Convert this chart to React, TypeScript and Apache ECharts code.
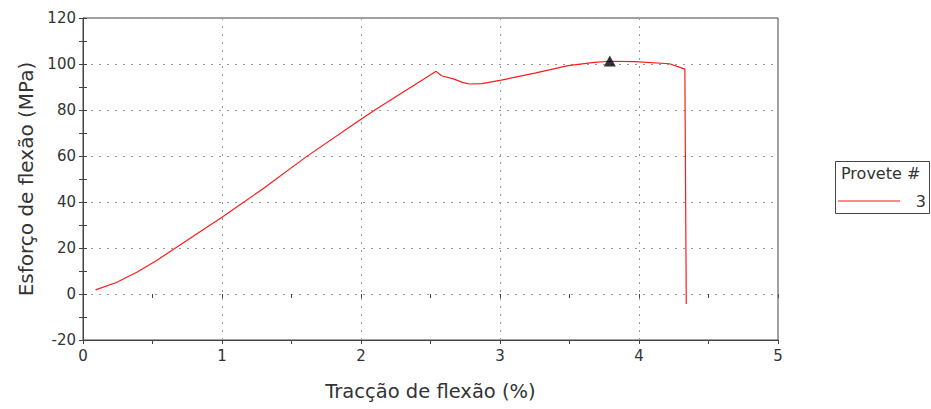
import React, { useEffect, useRef } from "react";
import * as echarts from "echarts";

const strain = [0.09, 0.24, 0.39, 0.53, 0.66, 0.82, 1.0, 1.14, 1.3, 1.6, 2.0, 2.1, 2.29, 2.45, 2.54, 2.58, 2.67, 2.73, 2.78, 2.87, 3.01, 3.25, 3.49, 3.68, 3.79, 3.97, 4.22, 4.33, 4.34];
const stress = [1.8, 5.0, 9.6, 14.6, 19.8, 26.2, 33.4, 39.2, 46.0, 59.4, 76.0, 80.0, 87.3, 93.4, 96.8, 94.9, 93.4, 92.0, 91.3, 91.5, 93.0, 96.0, 99.3, 100.7, 101.2, 101.0, 100.1, 97.8, -4.3];
const peakPoint = [3.79, 101.3];
const seriesName = "3";
const legendTitle = "Provete #";
const xTitle = "Tracção de flexão (%)";
const yTitle = "Esforço de flexão (MPa)";

const FONT = "DejaVu Sans";
const AXIS = "#444";
const RED = "#ff1a1a";

export default function App() {
  const ref = useRef<HTMLDivElement>(null);
  useEffect(() => {
    if (!ref.current) return;
    document.body.style.margin = "0";
    const chart = echarts.init(ref.current, undefined, { renderer: "svg" });
    const lineData = strain.map((x, i) => [x, stress[i]]);
    const innerTicksAxis = (min: number, max: number, interval: number) => ({
      type: "value",
      min,
      max,
      interval,
      axisLine: { show: false },
      axisTick: { show: true, inside: true, length: 4, lineStyle: { color: AXIS } },
      minorTick: { show: true, splitNumber: 2, length: 4, lineStyle: { color: AXIS } },
      axisLabel: { show: false },
      splitLine: { show: false },
    });
    chart.setOption({
      animation: false,
      backgroundColor: "#ffffff",
      textStyle: { fontFamily: FONT },
      grid: {
        left: 83,
        right: 153,
        top: 18,
        bottom: 69,
        show: true,
        borderColor: AXIS,
        borderWidth: 1,
        backgroundColor: "transparent",
      },
      graphic: [
        {
          type: "rect",
          shape: { x: 835.5, y: 161.5, width: 94, height: 52 },
          style: { fill: "transparent", stroke: AXIS, lineWidth: 1 },
          z: 10,
        },
        {
          type: "text",
          x: 841,
          y: 165,
          style: { text: legendTitle, font: `16px ${FONT}`, fill: "#333" },
          z: 10,
        },
        {
          type: "line",
          shape: { x1: 838, y1: 201, x2: 900, y2: 201 },
          style: { stroke: RED, lineWidth: 1.2 },
          z: 10,
        },
        {
          type: "text",
          x: 926,
          y: 193,
          style: { text: seriesName, font: `16px ${FONT}`, fill: "#333", align: "right" },
          z: 10,
        },
      ],
      xAxis: [
        {
          type: "value",
          min: 0,
          max: 5,
          interval: 1,
          name: xTitle,
          nameLocation: "middle",
          nameGap: 41,
          nameTextStyle: { fontFamily: FONT, fontSize: 19.5, color: "#333" },
          axisLine: { show: true, onZero: false, lineStyle: { color: AXIS, width: 1 } },
          axisTick: { show: true, length: 4, lineStyle: { color: AXIS } },
          minorTick: { show: true, splitNumber: 2, length: 4, lineStyle: { color: AXIS } },
          axisLabel: { fontFamily: FONT, fontSize: 15, color: "#333", margin: 8 },
          splitLine: { show: true, lineStyle: { color: "#999", type: [2, 6], width: 1 } },
        },
        innerTicksAxis(0, 5, 1),
      ],
      yAxis: [
        {
          type: "value",
          min: -20,
          max: 120,
          interval: 20,
          name: yTitle,
          nameLocation: "middle",
          nameGap: 46,
          nameTextStyle: { fontFamily: FONT, fontSize: 20, color: "#333" },
          axisLine: { show: true, onZero: false, lineStyle: { color: AXIS, width: 1 } },
          axisTick: { show: true, length: 4, lineStyle: { color: AXIS } },
          minorTick: { show: true, splitNumber: 2, length: 4, lineStyle: { color: AXIS } },
          axisLabel: { fontFamily: FONT, fontSize: 15, color: "#333", margin: 7 },
          splitLine: { show: true, lineStyle: { color: "#999", type: [2, 6], width: 1 } },
        },
        { ...innerTicksAxis(-20, 120, 20), position: "left" },
      ],
      series: [
        {
          name: seriesName,
          type: "line",
          data: lineData,
          showSymbol: false,
          symbol: "none",
          lineStyle: { color: RED, width: 1.2 },
          itemStyle: { color: RED },
          z: 3,
        },
        {
          name: "peak",
          type: "scatter",
          data: [peakPoint],
          symbol: "triangle",
          symbolSize: [12, 11],
          itemStyle: { color: "#000" },
          z: 5,
        },
      ],
    });
    return () => chart.dispose();
  }, []);
  return <div ref={ref} style={{ width: 931, height: 409 }} />;
}
